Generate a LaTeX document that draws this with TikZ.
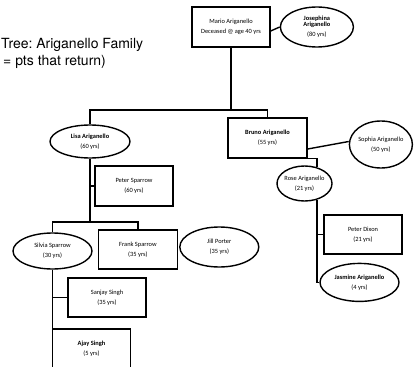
\documentclass[tikz,border=0pt]{standalone}
\usepackage{fontspec}
\setmainfont{Carlito}
\newfontfamily\titlefont{TeX Gyre Heros}
\usetikzlibrary{positioning,shapes.geometric}
\frenchspacing

\begin{document}
\begin{tikzpicture}[x=1pt, y=-1pt,
  pbox/.style={draw, line width=1.4pt, minimum width=78pt, minimum height=40pt,
               inner sep=0pt, align=center, font=\fontsize{6.4}{10}\selectfont},
  poval/.style={pbox, ellipse, inner xsep=-6pt},
  link/.style={line width=1.4pt},
  ]
  \useasboundingbox (0,0) rectangle (414,366);
  \clip (0,0) rectangle (414,366);

  \node[anchor=north west, align=left, inner sep=0pt,
        font=\titlefont\fontsize{14}{17}\selectfont] (title) at (1,38)
        {Tree: Ariganello Family\\\hspace{2pt}= pts that return)};

  % first generation
  \node[pbox] (mario) at (231,27) {Mario Ariganello\\Deceased @ age 40 yrs};
  \node[poval, minimum width=73pt, right=9pt of mario] (jose)
        {\textbf{Josephina}\\[-3.5pt]\textbf{Ariganello}\\(80 yrs)};

  % children
  \node[poval, minimum width=80pt, minimum height=33pt] (lisa) at (90,141.5)
        {\textbf{Lisa Ariganello}\\(60 yrs)};
  \node[pbox, minimum width=79pt] (bruno) at (267.5,138)
        {\textbf{Bruno Ariganello}\\(55 yrs)};
  \node[poval, minimum width=63pt, minimum height=47pt, right=41pt of bruno,
        yshift=-6.5pt] (sophia) {Sophia Ariganello\\(50 yrs)};
  \node[pbox] (sparrow) at (134,186) {Peter Sparrow\\(60 yrs)};

  % grandchildren
  \node[poval, minimum width=55pt, minimum height=35pt] (rose) at (304.5,183.5)
        {Rose Ariganello\\(21 yrs)};
  \node[pbox, minimum height=39pt] (dixon) at (363,234.5) {Peter Dixon\\(21 yrs)};
  \node[poval, minimum width=79pt, minimum height=38pt, below=8pt of dixon,
        xshift=-3.5pt] (jasmine) {\textbf{Jasmine Ariganello}\\(4 yrs)};
  \node[poval, minimum width=79pt, minimum height=36pt] (silvia) at (52.5,251)
        {Silvia Sparrow\\(30 yrs)};
  \node[pbox, minimum width=79pt, minimum height=39pt, right=5pt of silvia,
        yshift=1.5pt] (frank) {Frank Sparrow\\(35 yrs)};
  \node[poval, minimum width=79pt, right=1pt of frank, yshift=2.5pt] (jill)
        {Jill Porter\\(35 yrs)};

  % great-grandchild
  \node[pbox, minimum height=39pt] (sanjay) at (107,297.5) {Sanjay Singh\\(35 yrs)};
  \node[pbox] (ajay) at (91.5,349) {\textbf{Ajay Singh}\\(5 yrs)};

  % connectors
  \coordinate (top) at (231,110);
  \coordinate (mid) at (90,222);
  \draw[link] ([yshift=-4pt]mario.east) -- (jose.west);
  \draw[link] (mario.south) -- (top);
  \draw[link] (lisa.north) |- (top) -| (bruno.north);
  \draw[link] ([yshift=-11pt]bruno.east) -- ([yshift=3pt]sophia.west);
  \draw[link] (bruno.south) -| (rose.53);
  \draw[link] (rose.-53) |- (dixon.west);
  \draw[link] (rose.-53) |- (jasmine.west);
  \draw[link] (lisa.south) |- (sparrow.west);
  \draw[link] (lisa.south) -- (mid);
  \draw[link] (silvia.north) |- (mid) -| (frank.north);
  \draw[link] (silvia.south) |- (sanjay.west);
  \draw[link] (silvia.south) -- (silvia.south |- ajay.north);
\end{tikzpicture}
\end{document}
